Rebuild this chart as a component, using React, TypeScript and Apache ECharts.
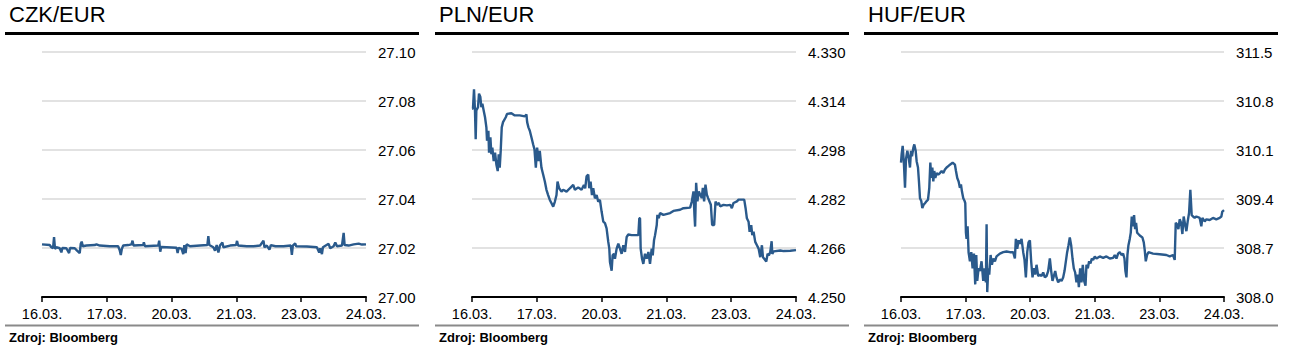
import { useEffect, useRef } from "react";
import * as echarts from "echarts";

const dateLabels = ["16.03.", "17.03.", "20.03.", "21.03.", "23.03.", "24.03."];
const titles = ["CZK/EUR", "PLN/EUR", "HUF/EUR"];
const sourceText = "Zdroj: Bloomberg";

const czkTime = [0, 0.119, 0.144, 0.17, 0.186, 0.201, 0.222, 0.273, 0.299, 0.314, 0.376, 0.418, 0.433, 0.505, 0.541, 0.582, 0.598, 0.613, 0.629, 0.686, 0.814, 0.84, 0.892, 1.046, 1.175, 1.201, 1.216, 1.232, 1.253, 1.33, 1.381, 1.397, 1.412, 1.562, 1.572, 1.588, 1.794, 1.809, 1.825, 1.84, 1.923, 2.077, 2.093, 2.108, 2.155, 2.18, 2.196, 2.216, 2.232, 2.284, 2.438, 2.552, 2.567, 2.582, 2.644, 2.67, 2.696, 2.722, 2.747, 2.784, 2.799, 2.902, 2.995, 3.01, 3.026, 3.16, 3.263, 3.366, 3.418, 3.433, 3.469, 3.51, 3.531, 3.603, 3.727, 3.84, 3.856, 3.871, 3.907, 3.923, 4.088, 4.242, 4.278, 4.294, 4.32, 4.335, 4.423, 4.448, 4.5, 4.526, 4.552, 4.629, 4.655, 4.67, 4.732, 4.809, 4.887, 4.938, 5.0];
const czkValue = [27.0215, 27.0212, 27.0203, 27.0199, 27.0244, 27.0196, 27.0203, 27.0199, 27.0182, 27.02, 27.0199, 27.0179, 27.02, 27.0199, 27.0189, 27.0179, 27.0217, 27.0226, 27.0207, 27.021, 27.0212, 27.0215, 27.021, 27.0207, 27.0207, 27.0189, 27.0171, 27.0196, 27.021, 27.0212, 27.0215, 27.023, 27.021, 27.0212, 27.0223, 27.0207, 27.021, 27.023, 27.0185, 27.0204, 27.0203, 27.0201, 27.0179, 27.0201, 27.0196, 27.0175, 27.0212, 27.0179, 27.0215, 27.0207, 27.021, 27.0212, 27.0248, 27.0212, 27.0203, 27.0189, 27.0212, 27.0182, 27.021, 27.0223, 27.0203, 27.021, 27.0212, 27.0229, 27.021, 27.0207, 27.0207, 27.021, 27.023, 27.0203, 27.021, 27.0193, 27.0212, 27.0207, 27.0207, 27.021, 27.0172, 27.021, 27.0219, 27.0207, 27.0206, 27.0203, 27.0182, 27.0199, 27.0175, 27.0203, 27.0217, 27.0199, 27.0207, 27.0223, 27.0207, 27.021, 27.0262, 27.0212, 27.021, 27.0215, 27.0218, 27.0214, 27.0215];

const plnTime = [0, 0.015, 0.031, 0.046, 0.057, 0.067, 0.093, 0.108, 0.129, 0.144, 0.16, 0.18, 0.201, 0.222, 0.232, 0.253, 0.263, 0.284, 0.299, 0.314, 0.335, 0.356, 0.376, 0.397, 0.412, 0.428, 0.443, 0.459, 0.479, 0.521, 0.541, 0.608, 0.66, 0.737, 0.814, 0.84, 0.851, 0.871, 0.892, 0.918, 0.943, 0.964, 0.985, 1.005, 1.026, 1.046, 1.072, 1.098, 1.124, 1.149, 1.175, 1.201, 1.227, 1.253, 1.278, 1.304, 1.32, 1.345, 1.381, 1.407, 1.459, 1.51, 1.562, 1.588, 1.639, 1.691, 1.727, 1.747, 1.768, 1.794, 1.809, 1.83, 1.851, 1.871, 1.897, 1.923, 1.948, 1.974, 2.0, 2.026, 2.052, 2.077, 2.103, 2.119, 2.129, 2.155, 2.17, 2.191, 2.206, 2.232, 2.258, 2.284, 2.309, 2.335, 2.361, 2.387, 2.412, 2.464, 2.567, 2.582, 2.593, 2.603, 2.624, 2.644, 2.67, 2.696, 2.722, 2.747, 2.773, 2.789, 2.809, 2.825, 2.851, 2.861, 2.881, 2.902, 2.954, 3.057, 3.108, 3.211, 3.263, 3.366, 3.392, 3.418, 3.433, 3.443, 3.459, 3.479, 3.5, 3.521, 3.546, 3.562, 3.582, 3.603, 3.624, 3.644, 3.665, 3.686, 3.706, 3.737, 3.758, 3.778, 3.809, 3.83, 3.881, 3.933, 3.985, 4.01, 4.036, 4.088, 4.113, 4.201, 4.222, 4.242, 4.268, 4.284, 4.309, 4.325, 4.345, 4.371, 4.397, 4.423, 4.448, 4.474, 4.49, 4.51, 4.541, 4.562, 4.582, 4.603, 4.624, 4.634, 4.655, 4.758, 4.809, 4.912, 5.0];
const plnValue = [4.3115, 4.3115, 4.3178, 4.3109, 4.3015, 4.3109, 4.312, 4.3164, 4.3153, 4.312, 4.3131, 4.3109, 4.3087, 4.3054, 4.301, 4.3043, 4.2971, 4.3021, 4.2966, 4.2988, 4.2944, 4.2971, 4.2933, 4.2911, 4.2966, 4.2922, 4.2977, 4.3054, 4.3071, 4.3087, 4.3098, 4.31, 4.3093, 4.3093, 4.309, 4.3096, 4.3071, 4.3054, 4.3043, 4.3021, 4.2999, 4.2982, 4.2922, 4.2988, 4.2944, 4.2977, 4.2922, 4.29, 4.2877, 4.285, 4.2833, 4.2817, 4.2806, 4.2795, 4.2811, 4.2833, 4.2877, 4.2855, 4.2844, 4.285, 4.2844, 4.2855, 4.2866, 4.285, 4.2858, 4.285, 4.2866, 4.2855, 4.2894, 4.29, 4.2855, 4.2877, 4.2833, 4.2855, 4.2822, 4.2833, 4.2811, 4.2817, 4.2779, 4.2746, 4.2741, 4.2724, 4.268, 4.2658, 4.2614, 4.2586, 4.2636, 4.2641, 4.2625, 4.2658, 4.2674, 4.2658, 4.2641, 4.2669, 4.2647, 4.2696, 4.2704, 4.2702, 4.2702, 4.2757, 4.2757, 4.2658, 4.2625, 4.2608, 4.2641, 4.2625, 4.2647, 4.2608, 4.2658, 4.2636, 4.2685, 4.2702, 4.2735, 4.2768, 4.2757, 4.2774, 4.2768, 4.2774, 4.2781, 4.2785, 4.279, 4.2792, 4.2812, 4.2845, 4.2768, 4.273, 4.2873, 4.2812, 4.2845, 4.2834, 4.2823, 4.2856, 4.2812, 4.2867, 4.2834, 4.2823, 4.2812, 4.2801, 4.2735, 4.2735, 4.2812, 4.2801, 4.2807, 4.2796, 4.2801, 4.2799, 4.2801, 4.279, 4.2807, 4.2812, 4.2818, 4.2818, 4.279, 4.2757, 4.2746, 4.2713, 4.2735, 4.2702, 4.2713, 4.268, 4.2669, 4.2658, 4.263, 4.2669, 4.263, 4.2625, 4.2616, 4.2641, 4.2636, 4.2647, 4.2682, 4.2641, 4.2649, 4.2652, 4.265, 4.2651, 4.2653];

const hufTime = [0, 0.01, 0.026, 0.046, 0.062, 0.077, 0.098, 0.119, 0.139, 0.155, 0.17, 0.191, 0.206, 0.227, 0.242, 0.263, 0.278, 0.294, 0.314, 0.33, 0.351, 0.371, 0.397, 0.418, 0.438, 0.454, 0.469, 0.485, 0.5, 0.515, 0.531, 0.552, 0.577, 0.603, 0.629, 0.655, 0.68, 0.706, 0.732, 0.758, 0.799, 0.835, 0.851, 0.871, 0.892, 0.912, 0.928, 0.943, 0.964, 0.985, 0.995, 1.005, 1.015, 1.031, 1.046, 1.067, 1.088, 1.108, 1.129, 1.149, 1.165, 1.18, 1.201, 1.222, 1.247, 1.273, 1.294, 1.314, 1.325, 1.335, 1.351, 1.366, 1.387, 1.407, 1.428, 1.454, 1.479, 1.531, 1.582, 1.634, 1.686, 1.737, 1.763, 1.778, 1.799, 1.82, 1.84, 1.866, 1.892, 1.912, 1.933, 1.954, 1.974, 1.995, 2.015, 2.036, 2.057, 2.077, 2.098, 2.124, 2.149, 2.175, 2.201, 2.227, 2.253, 2.278, 2.304, 2.325, 2.345, 2.366, 2.387, 2.407, 2.433, 2.459, 2.485, 2.51, 2.531, 2.552, 2.572, 2.593, 2.613, 2.634, 2.655, 2.675, 2.696, 2.716, 2.737, 2.753, 2.773, 2.794, 2.814, 2.835, 2.856, 2.871, 2.892, 2.912, 2.933, 2.954, 2.974, 3.0, 3.026, 3.077, 3.129, 3.18, 3.232, 3.284, 3.309, 3.335, 3.361, 3.387, 3.412, 3.438, 3.459, 3.474, 3.49, 3.505, 3.521, 3.541, 3.557, 3.572, 3.588, 3.608, 3.624, 3.639, 3.655, 3.675, 3.706, 3.737, 3.758, 3.773, 3.789, 3.809, 3.83, 3.902, 4.005, 4.108, 4.16, 4.211, 4.237, 4.253, 4.273, 4.294, 4.314, 4.335, 4.356, 4.376, 4.397, 4.418, 4.438, 4.459, 4.479, 4.5, 4.521, 4.546, 4.572, 4.624, 4.649, 4.665, 4.701, 4.727, 4.778, 4.83, 4.881, 4.933, 4.959, 4.974, 5.0];
const hufValue = [309.92, 310.04, 310.16, 309.89, 309.56, 309.97, 310.09, 309.99, 309.85, 310.09, 310.01, 310.13, 310.18, 310.09, 309.94, 309.85, 309.65, 309.41, 309.37, 309.27, 309.32, 309.34, 309.37, 309.39, 309.56, 309.92, 309.7, 309.85, 309.65, 309.8, 309.7, 309.77, 309.75, 309.77, 309.8, 309.77, 309.82, 309.85, 309.87, 309.89, 309.92, 309.89, 309.8, 309.7, 309.65, 309.56, 309.61, 309.51, 309.41, 309.37, 309.34, 308.92, 308.83, 309.01, 308.64, 308.51, 308.64, 308.41, 308.62, 308.18, 308.6, 308.23, 308.41, 308.37, 308.51, 308.23, 308.41, 308.21, 309.04, 308.07, 308.41, 308.32, 308.6, 308.46, 308.55, 308.51, 308.58, 308.62, 308.64, 308.65, 308.64, 308.64, 308.55, 308.83, 308.69, 308.81, 308.76, 308.83, 308.64, 308.53, 308.28, 308.64, 308.78, 308.81, 308.51, 308.28, 308.41, 308.32, 308.46, 308.3, 308.32, 308.3, 308.35, 308.28, 308.3, 308.37, 308.55, 308.37, 308.23, 308.3, 308.37, 308.28, 308.21, 308.25, 308.23, 308.28, 308.37, 308.51, 308.64, 308.74, 308.85, 308.74, 308.55, 308.41, 308.35, 308.21, 308.32, 308.14, 308.41, 308.21, 308.46, 308.23, 308.16, 308.46, 308.41, 308.51, 308.48, 308.55, 308.53, 308.58, 308.55, 308.58, 308.56, 308.58, 308.55, 308.56, 308.6, 308.55, 308.62, 308.64, 308.6, 308.62, 308.55, 308.37, 308.28, 308.6, 308.74, 308.83, 308.92, 309.15, 309.01, 309.17, 308.97, 309.06, 308.92, 308.9, 308.87, 308.85, 308.78, 308.67, 308.51, 308.6, 308.64, 308.62, 308.61, 308.6, 308.58, 308.6, 308.53, 309.06, 309.04, 308.97, 309.11, 309.06, 308.9, 309.15, 309.04, 308.94, 309.08, 309.2, 309.53, 309.17, 309.15, 309.13, 309.15, 309.13, 309.01, 309.13, 309.08, 309.11, 309.1, 309.13, 309.11, 309.13, 309.15, 309.22, 309.24];

const panelOffsets = [0, 430, 859];
const lineColor = "#2a5a8c";
const fontFamily = "'Liberation Sans', Arial, sans-serif";

const panels = [
  { title: titles[0], time: czkTime, value: czkValue, min: 27.0, max: 27.1, interval: 0.02, dec: 2 },
  { title: titles[1], time: plnTime, value: plnValue, min: 4.25, max: 4.33, interval: 0.016, dec: 3 },
  { title: titles[2], time: hufTime, value: hufValue, min: 308.0, max: 311.5, interval: 0.7, dec: 1 },
];

export default function App() {
  const ref = useRef<HTMLDivElement>(null);
  useEffect(() => {
    if (!ref.current) return;
    const chart = echarts.init(ref.current, undefined, { renderer: "svg" });
    const graphic: any[] = [];
    panels.forEach((p, i) => {
      const o = panelOffsets[i];
      graphic.push({
        type: "text", left: o + 9, top: 3,
        style: { text: p.title, font: `22px ${fontFamily}`, fill: "#000" },
      });
      graphic.push({
        type: "line", shape: { x1: o + 5, y1: 33.5, x2: o + 419, y2: 33.5 },
        style: { stroke: "#000", lineWidth: 3 },
      });
      graphic.push({
        type: "line", shape: { x1: o + 5, y1: 325.5, x2: o + 419, y2: 325.5 },
        style: { stroke: "#8a8a8a", lineWidth: 2 },
      });
      graphic.push({
        type: "text", left: o + 9, top: 331,
        style: { text: sourceText, font: `bold 13px ${fontFamily}`, fill: "#000" },
      });
    });
    chart.setOption({
      animation: false,
      graphic,
      grid: panels.map((_, i) => ({
        left: 42 + panelOffsets[i], top: 52, width: i === 2 ? 323 : 324, height: 245,
      })),
      xAxis: panels.map((_, i) => ({
        type: "value", gridIndex: i, min: 0, max: 5, interval: 1,
        axisLine: { show: true, onZero: false, lineStyle: { color: "#000", width: 2 } },
        axisTick: { show: true, length: 5, lineStyle: { color: "#000", width: 1.5 } },
        splitLine: { show: false },
        axisLabel: {
          formatter: (v: number) => dateLabels[Math.round(v)] ?? "",
          color: "#000", fontSize: 14.5, fontFamily, margin: 9,
        },
      })),
      yAxis: panels.map((p, i) => ({
        type: "value", gridIndex: i, position: "right",
        min: p.min, max: p.max, interval: p.interval,
        axisLine: { show: false }, axisTick: { show: false },
        splitLine: { show: true, lineStyle: { color: "#d9d9d9", width: 1.5 } },
        axisLabel: {
          formatter: (v: number) => v.toFixed(p.dec),
          color: "#000", fontSize: 15, fontFamily, margin: 12,
        },
      })),
      series: panels.map((p, i) => ({
        type: "line", xAxisIndex: i, yAxisIndex: i, showSymbol: false,
        data: p.time.map((t, k) => [t, p.value[k]]),
        lineStyle: { color: lineColor, width: 2.4 },
        itemStyle: { color: lineColor },
      })),
    });
    return () => chart.dispose();
  }, []);
  return (
    <div
      ref={ref}
      style={{ position: "fixed", left: 0, top: 0, width: 1289, height: 360, background: "#fff" }}
    />
  );
}
